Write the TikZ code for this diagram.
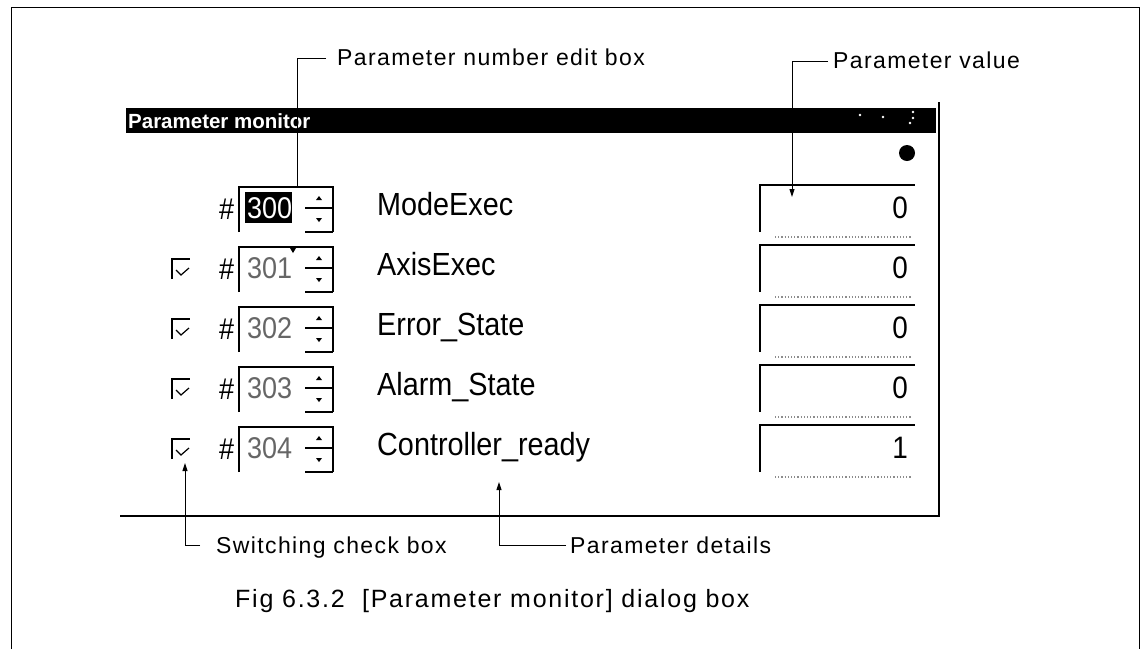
\documentclass[tikz,border=0pt]{standalone}
\usepackage{fontspec}
\setmainfont{Liberation Sans}
\newfontfamily\lblfont[LetterSpace=6]{Liberation Sans}
\newfontfamily\capfont[LetterSpace=7]{Liberation Sans}
\newfontfamily\uifont[FakeStretch=0.9]{Liberation Sans}
\newfontfamily\numfont[FakeStretch=0.9]{Liberation Sans}
\usetikzlibrary{arrows.meta}
\tikzset{
  thk/.style={line width=2.4pt},
  thn/.style={line width=1.2pt},
  leader/.style={line width=1pt},
  arr/.style={-{Triangle[length=8pt,width=5pt]}},
  lbl/.style={font=\lblfont\fontsize{23}{27}\selectfont, anchor=base west, inner sep=0pt},
  pname/.style={font=\uifont\fontsize{32}{36}\selectfont, anchor=base west, inner sep=0pt},
  pnum/.style={font=\numfont\fontsize{30}{34}\selectfont, anchor=base west, inner sep=0pt, text=black!60},
  pval/.style={font=\numfont\fontsize{31}{34}\selectfont, anchor=base east, inner sep=0pt},
  area/.style={draw=none, inner sep=0pt, minimum width=#1},
  area/.default=10pt
}
\begin{document}
\begin{tikzpicture}[x=1pt,y=-1pt]
\useasboundingbox (0,0) rectangle (1144,649);
% outer frame
\draw[line width=0.9pt] (11,649) -- (11,7) -- (1139,7) -- (1139,649);
% title bar
\node[fill=black, minimum width=810pt, minimum height=25pt, inner sep=0pt, anchor=north west] (title) at (126,108) {};
\node[font=\bfseries\fontsize{20.5}{24}\selectfont, text=white, anchor=base west, inner sep=0pt] (titletext) at (128,128) {Parameter monitor};
\foreach \p in {(883,117),(913,112),(913,118),(910,123),(860,115)} \fill[white] \p circle[radius=1.3pt];
% dialog edges
\coordinate (dlgTR) at (939,102);
\coordinate (dlgBR) at (939,516);
\coordinate (dlgBL) at (120,516);
\draw[thn] (dlgTR) -- (dlgBR) -- (dlgBL);
% status dot
\fill (907,153) circle[radius=8pt];
% rows
\foreach \i/\num/\name/\val in {1/300/ModeExec/0, 2/301/AxisExec/0, 3/302/Error\_State/0, 4/303/Alarm\_State/0, 5/304/Controller\_ready/1}{
  \pgfmathsetmacro{\c}{207+60*(\i-1)}
  % number edit box
  \node[area=94pt, minimum height=45pt] (nb\i) at (286,\c+2.5) {};
  \draw[thk] (nb\i.south west) -- (nb\i.north west) -- (nb\i.north east) -- (nb\i.south east);
  \draw[thk] (305,\c+1) -- (333,\c+1);
  \draw[thk] (305,\c+25) -- (333,\c+25);
  \fill (316,\c-7) -- (322,\c-7) -- (319,\c-11) -- cycle;
  \fill (316,\c+11) -- (322,\c+11) -- (319,\c+15) -- cycle;
  \ifnum\i=1
    \fill (245,\c-15) rectangle (292,\c+16);
    \node[pnum, text=white] (nt\i) at (247,\c+11) {\num};
  \else
    \node[pnum] (nt\i) at (247,\c+11) {\num};
    % check box
    \node[area=18pt, minimum height=20pt] (cb\i) at (181,\c+2) {};
    \draw[thk] (cb\i.south west) -- (cb\i.north west) -- (cb\i.north east);
    \draw[thn] (176,\c+3) -- (181,\c+8) -- (189,\c+1);
  \fi
  \node[pnum, text=black] (hash\i) at (219,\c+12) {\#};
  % parameter name
  \node[pname] (pn\i) at (377,\c+8) {\name};
  % value box
  \node[area=155pt, minimum height=47pt] (vb\i) at (837.5,\c+1.5) {};
  \draw[thk] (vb\i.south west) -- (vb\i.north west) -- (vb\i.north east);
  \draw[thn, dotted, black!45] (775,\c+30) -- (912,\c+30);
  \node[pval] (vv\i) at (908,\c+11) {\val};
}
% cursor mark after 301
\fill (290,248) -- (296,248) -- (293,253) -- cycle;
% bottom line of dialog
% labels and leaders
\node[lbl] (lpne) at (337,65) {Parameter number edit box};
\coordinate (pneE) at (326,58);
\coordinate (pneC) at (297,58);
\draw[leader] (pneE) -- (pneC) -- (pneC |- nb1.north);

\node[lbl] (lpv) at (833,68) {Parameter value};
\coordinate (pvE) at (828,61);
\coordinate (pvC) at (792,61);
\coordinate (pvT) at (792,197);
\draw[leader, arr] (pvE) -- (pvC) -- (pvT);

\node[lbl] (lscb) at (216,553) {Switching check box};
\coordinate (scbE) at (200,545);
\coordinate (scbC) at (185,545);
\coordinate (scbT) at (185,463);
\draw[leader, arr] (scbE) -- (scbC) -- (scbT);

\node[lbl] (lpd) at (570,553) {Parameter details};
\coordinate (pdE) at (566,545);
\coordinate (pdC) at (499,545);
\coordinate (pdT) at (499,482);
\draw[leader, arr] (pdE) -- (pdC) -- (pdT);

\node[font=\capfont\fontsize{25}{30}\selectfont, anchor=base west, inner sep=0pt] (cap) at (235,607) {Fig 6.3.2\ \ [Parameter monitor] dialog box};
\end{tikzpicture}
\end{document}
